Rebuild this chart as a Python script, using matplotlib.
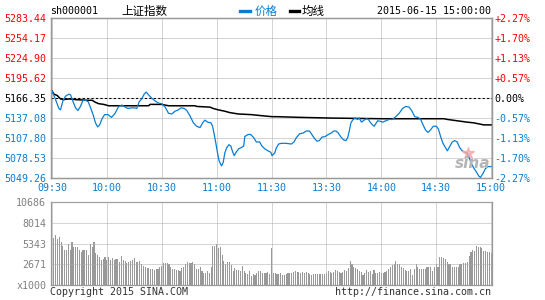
import matplotlib
matplotlib.use('Agg')
import matplotlib.pyplot as plt
from matplotlib.lines import Line2D

# ---- data (minutes after 09:30, lunch break removed) ----
price_t = [0, 2.0, 3.8, 4.7, 6.0, 7.4, 9.3, 10.2, 11.1, 12.9, 14.2, 15.6, 17.0, 18.3,
           19.8, 21.0, 22.5, 23.8, 25.0, 26.1, 27.4, 28.8, 30.7, 32.5, 34.3, 36.5, 38.3,
           40.1, 41.5, 43.7, 45.2, 46.4, 47.7, 49.1, 50.4, 51.5, 52.8, 54.6, 56.4, 58.2,
           60.0, 61.9, 63.7, 65.5, 67.3, 69.1, 70.6, 72.4, 73.7, 75.5, 77.3, 79.1, 80.9,
           82.4, 83.6, 85.1, 86.9, 87.8, 88.7, 89.6, 90.5, 91.4, 92.7, 93.6, 94.5, 95.4,
           96.7, 97.8, 98.7, 99.6, 100.9, 102.1, 103.6, 104.8, 105.4, 107.2, 108.6, 110.4,
           111.7, 113.5, 114.8, 116.3, 118.1, 119.6, 120.3, 121.8, 122.6, 123.9, 125.4,
           128.1, 130.8, 132.3, 133.5, 135.4, 137.2, 139.0, 140.8, 142.0, 143.5, 144.9,
           146.2, 147.5, 149.3, 151.1, 152.6, 154.0, 155.3, 156.5, 158.0, 159.4, 160.7,
           161.6, 162.5, 163.4, 164.3, 165.6, 167.0, 167.9, 169.2, 170.6, 171.9, 173.0,
           173.9, 175.2, 176.1, 177.5, 178.0, 179.8, 180.7, 182.5, 184.3, 186.1, 187.9,
           189.8, 191.6, 193.4, 195.2, 196.6, 198.3, 200.1, 201.5, 203.0, 204.3, 205.5,
           207.0, 208.4, 210.1, 211.2, 212.4, 213.7, 215.2, 216.1, 217.5, 218.8, 220.1,
           221.5, 222.8, 224.2, 225.5, 226.9, 227.8, 229.1, 230.5, 232.0, 233.3, 234.2,
           235.6, 236.9, 238.4, 240]
price = [5177, 5164, 5151, 5149, 5162, 5169, 5172, 5171, 5164, 5152, 5148, 5154, 5163, 5163,
         5161, 5153, 5142, 5130, 5124, 5127, 5136, 5142, 5142, 5138, 5143, 5154, 5156,
         5153, 5151, 5152, 5152, 5151, 5161, 5165, 5172, 5175, 5171, 5166, 5162, 5159,
         5158, 5153, 5144, 5143, 5147, 5149, 5152, 5151, 5148, 5140, 5130, 5125, 5123,
         5130, 5134, 5131, 5130, 5125, 5113, 5100, 5086, 5074, 5067, 5072, 5086, 5093,
         5098, 5096, 5088, 5082, 5088, 5092, 5094, 5096, 5110, 5113, 5113, 5108,
         5102, 5102, 5096, 5092, 5089, 5087, 5082, 5086, 5093, 5099, 5100,
         5100, 5099, 5102, 5108, 5114, 5115, 5118, 5118, 5113, 5107, 5103,
         5104, 5109, 5110, 5113, 5115, 5118, 5118, 5115, 5109, 5105, 5104,
         5108, 5118, 5130, 5134, 5137, 5135, 5137, 5131, 5134, 5136, 5135,
         5131, 5127, 5125, 5131, 5133, 5132, 5131, 5133, 5135, 5135, 5139,
         5144, 5151, 5154, 5153, 5148, 5139, 5138, 5135, 5126, 5119, 5116,
         5120, 5125, 5125, 5121, 5110, 5100, 5093, 5089, 5096, 5102, 5104,
         5102, 5094, 5089, 5087, 5086, 5081, 5071, 5064, 5058, 5052, 5050,
         5056, 5063, 5066, 5066]

avg_t = [0, 1.1, 2.9, 4.7, 6.5, 9.3, 12.9, 19.8, 22.0, 23.8, 25.6, 28.3, 31.0, 41.9, 52.8,
         53.7, 60.0, 63.7, 78.2, 79.1, 86.4, 88.2, 90.9, 94.5, 97.2, 101.8, 109.0, 116.3,
         120.4, 123.2, 135.4, 152.3, 180.3, 214.3, 216.1, 221.5, 226.9, 230.5, 234.2,
         236.0, 240]
avg = [5177, 5172, 5170, 5165, 5164, 5165, 5164, 5163, 5163, 5160, 5158, 5157, 5155, 5155,
       5155, 5157, 5157, 5155, 5155, 5154, 5153, 5151, 5149, 5147, 5145, 5143, 5142, 5140,
       5139, 5139, 5138, 5137, 5136, 5136, 5135, 5133, 5131, 5130, 5128, 5127, 5127]

# volume per minute, in thousands (t = 0 .. 240)
volume = [6620, 6100, 6450, 5930, 6190, 5600, 5080, 4480, 4570, 5340, 4480, 5510, 4910, 4910,
          4910, 4480, 4270, 4480, 4570, 4570, 3840, 5340, 4910, 5510, 4140, 3840, 3600, 3200,
          3400, 3600,
          3200, 3630, 3200, 3540, 3200, 3290, 3290, 2990, 3710, 3200, 3070, 2860, 2950, 3070,
          3200, 3540, 2950, 2950, 3070, 2690, 2430, 2260, 2180, 2180, 2090, 2000, 1920, 2090,
          2000, 2260,
          2430, 2780, 2860, 2780, 2690, 2350, 2090, 2090, 1920, 1920, 1840, 2130, 2350, 2650,
          2950, 2860, 2860, 2950, 2690, 2090, 2090, 2260, 1840, 1580, 1580, 1840, 1580, 2260,
          5080, 5080,
          5340, 4780, 4910, 3840, 3070, 2690, 2950, 2950, 2600, 1840, 2180, 1920, 1920, 1840,
          2430, 1840, 1580, 1410, 1840, 1150, 1410, 1320, 1580, 1750, 1840, 1580, 1600, 1500,
          1700, 1410,
          4780,
          1580, 1490, 1410, 1410, 1490, 1240, 1320, 1410, 1490, 1580, 1490, 1670, 1790, 1710,
          1670, 1580, 1670, 1490, 1670, 1580, 1410, 1320, 1410, 1410, 1410, 1410, 1410, 1410,
          1410, 1490,
          1790, 1670, 1580, 1710, 1920, 1840, 1670, 1580, 1710, 1920, 1840, 2130, 3070, 2690,
          2350, 2180, 2090, 1840, 1670, 1240, 1580, 1920, 1670, 1840, 1410, 1920, 1580, 1580,
          1670, 1490,
          1580, 1670, 1840, 2000, 2350, 2520, 2690, 3030, 2690, 2690, 2350, 2180, 1920, 1840,
          1840, 2000, 1320, 2090, 2690, 2350, 2000, 2090, 2090, 2090, 2260, 2350, 2350, 1840,
          2350, 2690,
          2350, 3640, 3640, 3540, 3370, 2950, 2690, 2690, 2260, 2260, 2260, 2350, 2690, 2690,
          2780, 2860, 2950, 3710, 4270, 4480, 4350, 5000, 4900, 4830, 4700, 4400, 4350, 4300,
          4200, 4100]

time_ticks = [0, 30, 60, 90, 120, 150, 180, 210, 240]
time_labels = ['09:30', '10:00', '10:30', '11:00', '11:30', '13:30', '14:00', '14:30', '15:00']
price_levels = [5049.26, 5078.53, 5107.80, 5137.08, 5166.35, 5195.62, 5224.90, 5254.17, 5283.44]
pct_labels = ['-2.27%', '-1.70%', '-1.13%', '-0.57%', '0.00%', '+0.57%', '+1.13%', '+1.70%', '+2.27%']
prev_close = 5166.35
vol_levels = [0, 2671, 5343, 8014, 10686]
vol_labels = ['x1000', '2671', '5343', '8014', '10686']

RED = '#ff0000'
BLUE = '#0a7dd2'
GRAY = '#999999'
MONO = 'DejaVu Sans Mono'
CJK = ['Noto Sans CJK SC', 'DejaVu Sans']
FS = 7.2

W, H = 545.0, 300.0
fig = plt.figure(figsize=(5.45, 3.0), dpi=100)
ax = fig.add_axes([51 / W, 1 - 178 / H, 441 / W, 160 / H])
axv = fig.add_axes([51 / W, 1 - 285 / H, 441 / W, 83 / H])

grid_kw = dict(color='#aaaaaa', lw=0.72, ls=(0, (1, 1)))

# price panel
ax.plot(price_t, price, color=BLUE, lw=0.9, zorder=4)
ax.plot(avg_t, avg, color='black', lw=1.1, zorder=3)
ax.axhline(prev_close, color='black', lw=0.8, ls=(0, (2, 2)), zorder=2)
ax.set_xlim(-0.5, 240.5)
ax.set_ylim(price_levels[0], price_levels[-1])
ax.set_xticks(time_ticks)
ax.set_xticklabels(time_labels, family=MONO, fontsize=FS, color=BLUE)
ax.set_yticks(price_levels)
ax.set_yticklabels(['%.2f' % v for v in price_levels], family=MONO, fontsize=FS)
for lab, v in zip(ax.get_yticklabels(), price_levels):
    lab.set_color(RED if v > prev_close + 0.01 else ('black' if abs(v - prev_close) < 0.01 else BLUE))
ax.tick_params(length=0, pad=3.5)
ax.grid(True, **grid_kw)

axr = ax.twinx()
axr.set_ylim(price_levels[0], price_levels[-1])
axr.set_yticks(price_levels)
axr.set_yticklabels(pct_labels, family=MONO, fontsize=FS)
for lab, s in zip(axr.get_yticklabels(), pct_labels):
    lab.set_color(RED if s.startswith('+') else ('black' if s == '0.00%' else BLUE))
axr.tick_params(length=0, pad=1.5)

for a in (ax, axr, axv):
    for sp in a.spines.values():
        sp.set_color(GRAY)
        sp.set_linewidth(0.9)

# volume panel
axv.bar(range(len(volume)), volume, width=0.6, color=GRAY, linewidth=0,
        antialiased=False, zorder=2)
axv.set_xlim(-0.5, 240.5)
axv.set_ylim(0, vol_levels[-1])
axv.set_xticks(time_ticks)
axv.set_xticklabels([])
axv.set_yticks(vol_levels)
axv.set_yticklabels(vol_labels, family=MONO, fontsize=FS, color='#808080')
axv.tick_params(length=0, pad=3.5)
axv.grid(True, zorder=3, **grid_kw)
axv.set_axisbelow(False)

# header
fig.text(50 / W, 1 - 11 / H, 'sh000001', family=MONO, fontsize=FS, va='center', ha='left')
fig.text(121 / W, 1 - 11 / H, '上证指数', family=CJK, fontsize=8.3, va='center', ha='left')
fig.add_artist(Line2D([240 / W, 250 / W], [1 - 11 / H] * 2, color=BLUE, lw=2.4,
                      transform=fig.transFigure))
fig.text(255 / W, 1 - 11 / H, '价格', family=CJK, fontsize=8.3, va='center', ha='left', color=BLUE)
fig.add_artist(Line2D([290 / W, 299 / W], [1 - 11 / H] * 2, color='black', lw=2.4,
                      transform=fig.transFigure))
fig.text(302 / W, 1 - 11 / H, '均线', family=CJK, fontsize=8.3, va='center', ha='left')
fig.text(491 / W, 1 - 11 / H, '2015-06-15 15:00:00', family=MONO, fontsize=FS,
         va='center', ha='right')

# footer
fig.text(50 / W, 1 - 292 / H, 'Copyright 2015 SINA.COM', family=MONO, fontsize=FS,
         va='center', ha='left', color='#333333')
fig.text(491 / W, 1 - 292 / H, 'http://finance.sina.com.cn', family=MONO, fontsize=FS,
         va='center', ha='right', color='#333333')

# sina watermark
fig.add_artist(Line2D([468 / W], [1 - 153 / H], marker='*', ms=9, color='#f4a8a8',
                      mec='#f4a8a8', transform=fig.transFigure, alpha=0.8, zorder=1))
fig.text(473 / W, 1 - 164 / H, 'sina', fontsize=11, style='italic', weight='bold',
         color='#b5b5b5', ha='center', va='center', zorder=1)

fig.savefig('out.png', dpi=100)
